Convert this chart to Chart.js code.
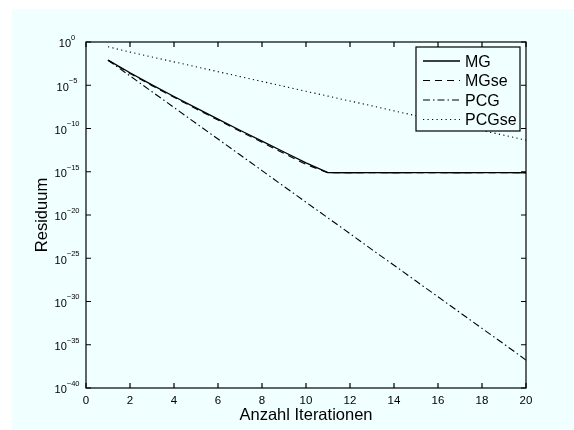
<!DOCTYPE html>
<html>
<head>
<meta charset="utf-8">
<script src="https://cdn.jsdelivr.net/npm/chart.js@4"></script>
<style>
  html, body { margin: 0; padding: 0; background: #fff; }
</style>
</head>
<body>
<canvas id="chartCanvas" width="574" height="430"></canvas>
<script>
// data (residual per iteration)
const iterations = [1, 2, 3, 4, 5, 6, 7, 8, 9, 10, 11, 12, 13, 14, 15, 16, 17, 18, 19, 20];
const mg = [7.9e-3, 2.8e-4, 1.1e-5, 5.0e-7, 2.4e-8, 1.2e-9, 6.3e-11, 3.4e-12, 1.9e-13, 1.05e-14,
  7.9e-16, 7.7e-16, 7.8e-16, 7.7e-16, 7.8e-16, 7.8e-16, 7.7e-16, 7.8e-16, 7.8e-16, 7.7e-16];
const mgse = [7.9e-3, 2.3e-4, 8.9e-6, 4.0e-7, 1.9e-8, 9.5e-10, 4.8e-11, 2.5e-12, 1.3e-13, 7.1e-15,
  7.6e-16, 7.6e-16, 7.7e-16, 7.6e-16, 7.7e-16, 7.7e-16, 7.6e-16, 7.7e-16, 7.7e-16, 7.6e-16];
const pcg = [7.9e-3, 1.2e-4, 1.8e-6, 2.7e-8, 4.0e-10, 6.0e-12, 9.1e-14, 1.35e-15, 2.0e-17, 3.0e-19,
  4.6e-21, 6.9e-23, 1.0e-24, 1.55e-26, 2.3e-28, 3.5e-30, 5.2e-32, 7.8e-34, 1.2e-35, 1.7e-37];
const pcgse = [0.28, 0.068, 0.0186, 5.0e-3, 1.38e-3, 3.7e-4, 1.0e-4, 2.75e-5, 7.4e-6, 2.0e-6,
  5.5e-7, 1.5e-7, 4.1e-8, 1.1e-8, 3.0e-9, 8.1e-10, 2.2e-10, 6.0e-11, 1.66e-11, 4.5e-12];

const seriesNames = ["MG", "MGse", "PCG", "PCGse"];
const xTicks = [0, 2, 4, 6, 8, 10, 12, 14, 16, 18, 20];
const yTickExps = [0, -5, -10, -15, -20, -25, -30, -35, -40];
const xTitle = "Anzahl Iterationen";
const yTitle = "Residuum";

const BG = "#f0ffff";
const FONT = '"Liberation Sans", Arial, sans-serif';

function toPoints(vals) {
  return vals.map((v, i) => ({ x: iterations[i], y: v }));
}

const dashes = [[], [7, 5], [7, 3, 1.5, 3], [1.2, 3.3]];
const series = [mg, mgse, pcg, pcgse];

// matlab-style box, inward ticks, labels and legend
const matlabAxes = {
  id: "matlabAxes",
  beforeDraw(chart) {
    const ctx = chart.ctx;
    ctx.save();
    ctx.fillStyle = "#fff";
    ctx.fillRect(0, 0, chart.width, chart.height);
    ctx.fillStyle = BG;
    ctx.fillRect(12, 9, chart.width - 12, chart.height - 9);
    ctx.restore();
  },
  afterDatasetsDraw(chart) {
    const ctx = chart.ctx;
    const a = chart.chartArea;
    const xs = chart.scales.x, ys = chart.scales.y;
    ctx.save();
    ctx.strokeStyle = "#000";
    ctx.fillStyle = "#000";
    ctx.lineWidth = 1.2;
    ctx.setLineDash([]);

    // ticks
    ctx.beginPath();
    xTicks.forEach(t => {
      const px = xs.getPixelForValue(t);
      ctx.moveTo(px, a.bottom); ctx.lineTo(px, a.bottom - 5);
      ctx.moveTo(px, a.top); ctx.lineTo(px, a.top + 5);
    });
    yTickExps.forEach(e => {
      const py = ys.getPixelForValue(Math.pow(10, e));
      ctx.moveTo(a.left, py); ctx.lineTo(a.left + 5, py);
      ctx.moveTo(a.right, py); ctx.lineTo(a.right - 5, py);
    });
    ctx.stroke();
    ctx.strokeRect(a.left, a.top, a.right - a.left, a.bottom - a.top);

    // x tick labels
    ctx.font = "11.5px " + FONT;
    ctx.textAlign = "center";
    ctx.textBaseline = "alphabetic";
    xTicks.forEach(t => {
      ctx.fillText(String(t), xs.getPixelForValue(t), a.bottom + 15.5);
    });

    // y tick labels 10^e
    ctx.textAlign = "left";
    yTickExps.forEach(e => {
      const py = ys.getPixelForValue(Math.pow(10, e));
      const exp = e === 0 ? "0" : "\u2212" + Math.abs(e);
      ctx.font = "11px " + FONT;
      const wb = ctx.measureText("10").width;
      ctx.font = "7.5px " + FONT;
      const we = ctx.measureText(exp).width;
      const left = 67 - (wb + we) / 2;
      ctx.font = "11px " + FONT;
      ctx.fillText("10", left, py + 5.3);
      ctx.font = "7.5px " + FONT;
      ctx.fillText(exp, left + wb, py - 2.2);
    });

    // axis titles
    ctx.font = "16.5px " + FONT;
    ctx.textAlign = "center";
    ctx.fillText(xTitle, (a.left + a.right) / 2, 419.5);
    ctx.save();
    ctx.translate(46.5, (a.top + a.bottom) / 2);
    ctx.rotate(-Math.PI / 2);
    ctx.fillText(yTitle, 0, 0);
    ctx.restore();

    // legend
    const lx = 416, ly = 47, lw = 104, lh = 84;
    ctx.fillStyle = BG;
    ctx.fillRect(lx, ly, lw, lh);
    ctx.lineWidth = 1.2;
    ctx.strokeRect(lx, ly, lw, lh);
    ctx.font = "16px " + FONT;
    ctx.textAlign = "left";
    chart.data.datasets.forEach((ds, i) => {
      const ry = 61 + i * 19.5;
      ctx.strokeStyle = "#000";
      ctx.lineWidth = ds.borderWidth;
      ctx.setLineDash(ds.borderDash);
      ctx.beginPath();
      ctx.moveTo(423, ry);
      ctx.lineTo(460, ry);
      ctx.stroke();
      ctx.fillStyle = "#000";
      ctx.fillText(ds.label, 465, ry + 5.7);
    });
    ctx.restore();
  }
};

const ctx = document.getElementById("chartCanvas").getContext("2d");
new Chart(ctx, {
  type: "line",
  data: {
    datasets: seriesNames.map((name, i) => ({
      label: name,
      data: toPoints(series[i]),
      borderColor: "#000",
      borderWidth: i === 0 ? 1.3 : 1.1,
      borderDash: dashes[i],
      pointRadius: 0,
      tension: 0,
      fill: false
    }))
  },
  options: {
    responsive: false,
    animation: false,
    layout: { padding: { left: 86, top: 42, right: 48, bottom: 42 } },
    plugins: { legend: { display: false }, tooltip: { enabled: false } },
    scales: {
      x: { type: "linear", min: 0, max: 20, display: false },
      y: { type: "logarithmic", min: 1e-40, max: 1, display: false }
    }
  },
  plugins: [matlabAxes]
});
</script>
</body>
</html>
